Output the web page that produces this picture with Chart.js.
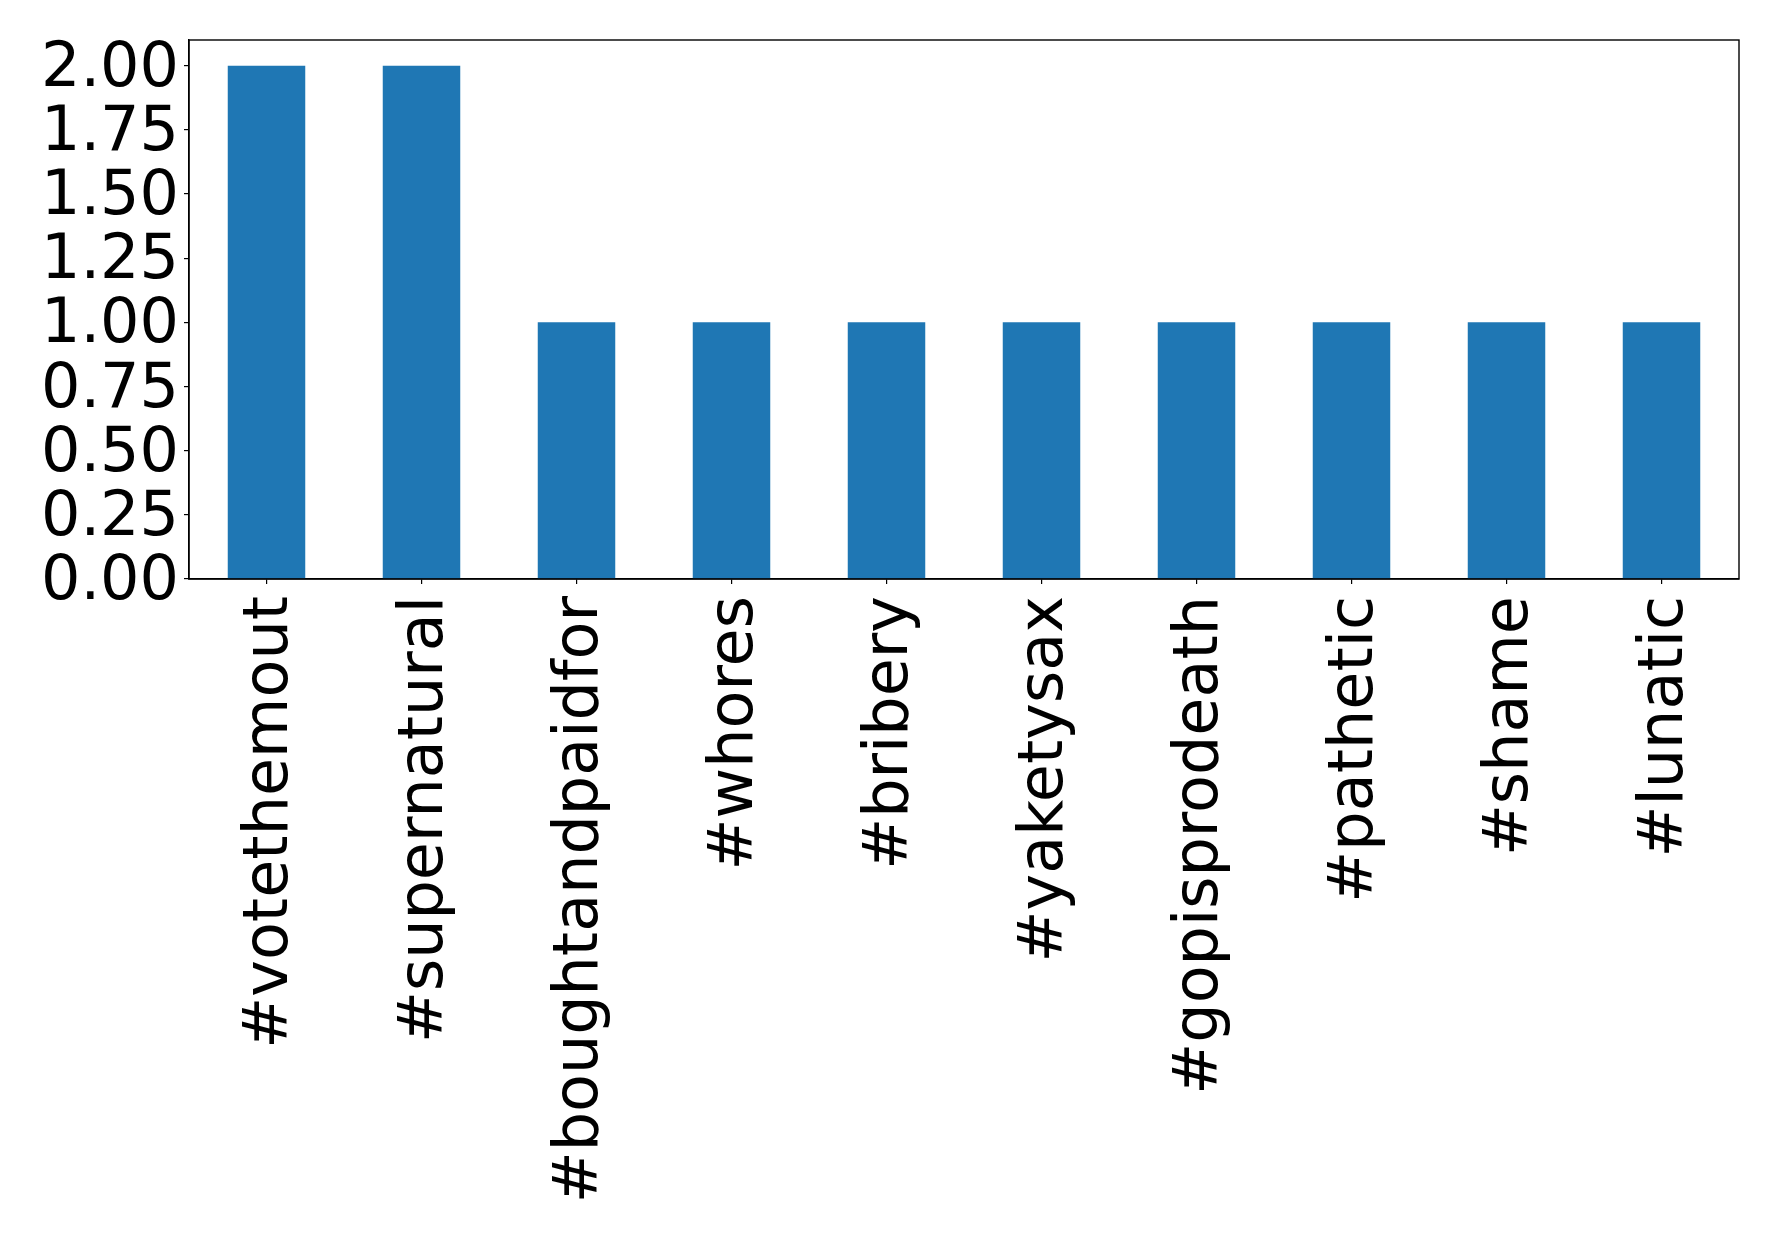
<!DOCTYPE html>
<html>
<head>
<meta charset="utf-8">
<script src="https://cdn.jsdelivr.net/npm/chart.js@4/dist/chart.umd.min.js"></script>
<style>
  html, body { margin: 0; padding: 0; background: #ffffff; }
  #wrap { width: 1778px; height: 1240px; position: relative; }
</style>
</head>
<body>
<div id="wrap"><canvas id="c" width="1778" height="1240"></canvas></div>
<script>
const categories = ["#votethemout", "#supernatural", "#boughtandpaidfor", "#whores", "#bribery", "#yaketysax", "#gopisprodeath", "#pathetic", "#shame", "#lunatic"];
const counts = [2, 2, 1, 1, 1, 1, 1, 1, 1, 1];
const yTickValues = [0, 0.25, 0.5, 0.75, 1.0, 1.25, 1.5, 1.75, 2.0];

const frame = {
  id: 'frame',
  afterDraw(chart) {
    const a = chart.chartArea, ctx = chart.ctx;
    ctx.save();
    ctx.strokeStyle = '#000';
    ctx.lineWidth = 1.4;
    ctx.strokeRect(a.left, a.top, a.right - a.left, a.bottom - a.top);
    ctx.restore();
  }
};

new Chart(document.getElementById('c'), {
  type: 'bar',
  data: {
    labels: categories,
    datasets: [{
      data: counts,
      backgroundColor: '#1f77b4',
      borderWidth: 0,
      categoryPercentage: 1.0,
      barPercentage: 0.5
    }]
  },
  options: {
    responsive: false,
    animation: false,
    devicePixelRatio: 1,
    layout: { padding: { top: 40, right: 39, left: 0, bottom: 0 } },
    plugins: { legend: { display: false }, tooltip: { enabled: false } },
    scales: {
      x: {
        grid: { display: true, offset: false, drawOnChartArea: false, drawTicks: true, tickLength: 5, color: '#000', lineWidth: 1.2 },
        border: { display: true, color: '#000', width: 1.4 },
        ticks: {
          autoSkip: false, maxRotation: 90, minRotation: 90, padding: 12, labelOffset: 4,
          color: '#000', font: { family: 'DejaVu Sans', size: 62 }
        },
        afterFit(scale) { scale.height = 661; scale.paddingLeft = 0; scale.paddingRight = 0; }
      },
      y: {
        min: 0, max: 2.1,
        afterBuildTicks(scale) { scale.ticks = yTickValues.map(v => ({ value: v })); },
        grid: { display: true, drawOnChartArea: false, drawTicks: true, tickLength: 5, color: '#000', lineWidth: 1.2 },
        border: { display: true, color: '#000', width: 1.4 },
        ticks: {
          autoSkip: false, padding: 5, labelOffset: 4, color: '#000', font: { family: 'DejaVu Sans', size: 62 },
          callback: (v) => Number(v).toFixed(2)
        },
        afterFit(scale) { scale.width = 189; scale.paddingTop = 0; scale.paddingBottom = 0; }
      }
    }
  },
  plugins: [frame]
});
</script>
</body>
</html>
